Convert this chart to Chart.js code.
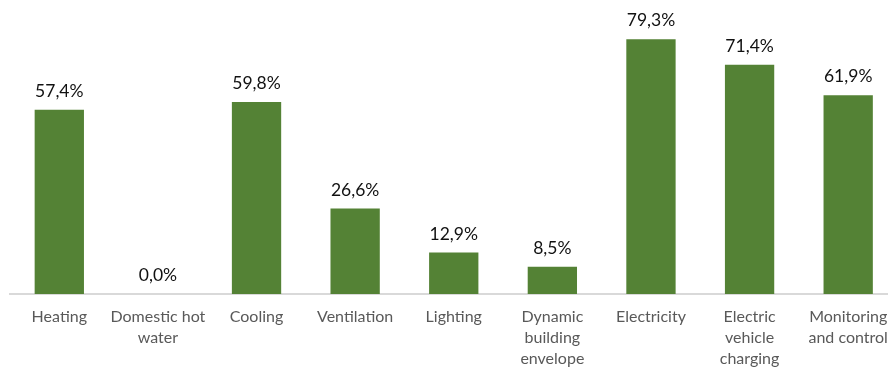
<!DOCTYPE html>
<html>
<head>
<meta charset="utf-8">
<script src="https://cdn.jsdelivr.net/npm/chart.js@4/dist/chart.umd.min.js"></script>
<style>
  html, body { margin: 0; padding: 0; background: #fff; overflow: hidden; }
  #wrap { width: 888px; height: 372px; overflow: hidden; position: relative; }
  canvas { display: block; }
</style>
</head>
<body>
<div id="wrap"><canvas id="chart" width="900" height="372" style="width:900px;height:372px"></canvas></div>
<script>
// Categories (multi-line tick labels) and their shares in percent
const categories = [
  ['Heating'],
  ['Domestic hot', 'water'],
  ['Cooling'],
  ['Ventilation'],
  ['Lighting'],
  ['Dynamic', 'building', 'envelope'],
  ['Electricity'],
  ['Electric', 'vehicle', 'charging'],
  ['Monitoring', 'and control']
];
const shares = [57.4, 0.0, 59.8, 26.6, 12.9, 8.5, 79.3, 71.4, 61.9];

const FONT = 'Lato, "Open Sans", sans-serif';

// Writes each bar's value above it, with a decimal comma
const valueLabels = {
  id: 'valueLabels',
  afterDatasetsDraw(chart) {
    const ctx = chart.ctx;
    const meta = chart.getDatasetMeta(0);
    const data = chart.data.datasets[0].data;
    ctx.save();
    ctx.font = '17.5px ' + FONT;
    ctx.fillStyle = '#111';
    ctx.textAlign = 'center';
    ctx.textBaseline = 'alphabetic';
    meta.data.forEach((bar, i) => {
      const txt = data[i].toFixed(1).replace('.', ',') + '%';
      ctx.fillText(txt, bar.x, bar.y - 13);
    });
    ctx.restore();
  }
};

new Chart(document.getElementById('chart'), {
  type: 'bar',
  data: {
    labels: categories,
    datasets: [{
      data: shares,
      backgroundColor: '#548235',
      borderWidth: 0,
      categoryPercentage: 1.0,
      barPercentage: 0.5
    }]
  },
  options: {
    responsive: false,
    animation: false,
    devicePixelRatio: 1,
    layout: { padding: { left: 10, right: 2, top: 5, bottom: 0 } },
    plugins: {
      legend: { display: false },
      tooltip: { enabled: false }
    },
    scales: {
      x: {
        grid: { display: false, drawTicks: false },
        border: { display: true, color: '#d9d9d9', width: 2 },
        ticks: {
          color: '#595959',
          font: { family: FONT, size: 16, lineHeight: 1.33 },
          padding: 12,
          maxRotation: 0,
          autoSkip: false
        },
        afterFit(scale) { scale.height = 78; }
      },
      y: {
        display: false,
        min: 0,
        max: 90
      }
    }
  },
  plugins: [valueLabels]
});
</script>
</body>
</html>
